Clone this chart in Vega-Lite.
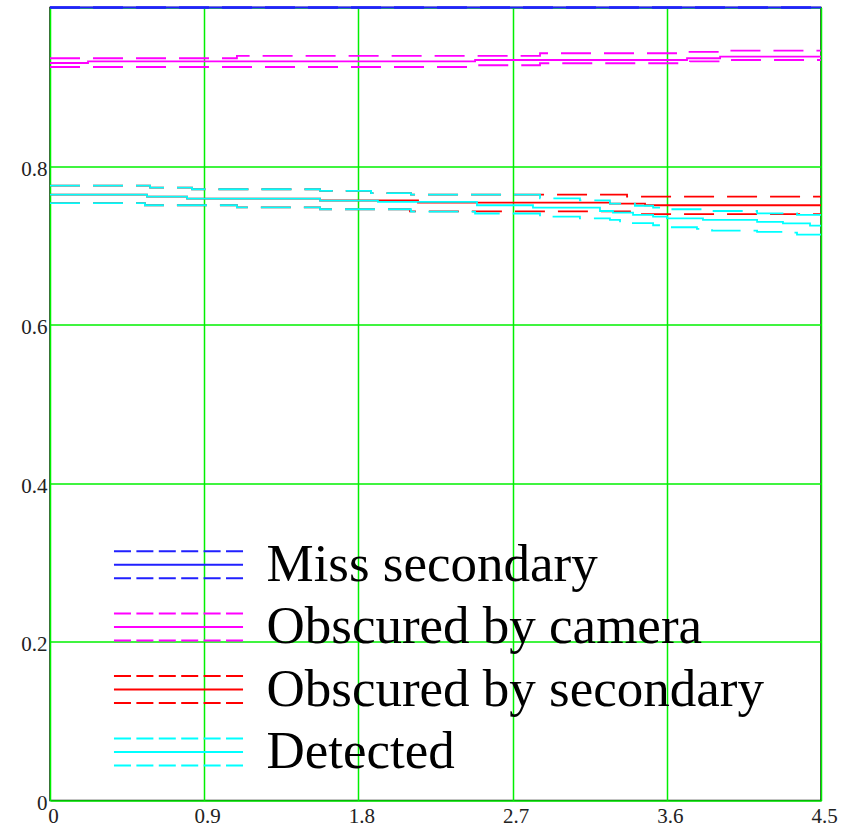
{
  "$schema": "https://vega.github.io/schema/vega-lite/v6.json",
  "width": 771,
  "height": 793,
  "autosize": {"type": "none"},
  "padding": {"left": 50, "top": 7.5, "right": 32, "bottom": 29},
  "background": "white",
  "config": {
    "view": {"stroke": "#111111", "strokeWidth": 1.5},
    "axis": {
      "labelFont": "Liberation Serif",
      "labelFontSize": 21,
      "labelColor": "#222222",
      "ticks": false,
      "domain": false,
      "grid": true,
      "gridColor": "#00f000",
      "gridWidth": 1.5,
      "gridOpacity": 1,
      "title": null
    },
    "legend": {
      "orient": "none",
      "legendX": 38,
      "legendY": 530.7,
      "padding": 0,
      "labelFont": "Liberation Serif",
      "labelFontSize": 53,
      "labelColor": "#000000",
      "labelLimit": 800,
      "symbolSize": 729,
      "symbolStrokeWidth": 2,
      "symbolOffset": 64,
      "labelOffset": 61.5,
      "rowPadding": 8.4,
      "title": null
    }
  },
  "data": {
    "values": [
      {"s": "Miss secondary", "l": "upper", "x": 0, "v": 1},
      {"s": "Miss secondary", "l": "upper", "x": 4.5, "v": 1},
      {"s": "Miss secondary", "l": "lower", "x": 0, "v": 1},
      {"s": "Miss secondary", "l": "lower", "x": 4.5, "v": 1},
      {"s": "Miss secondary", "l": "est", "x": 0, "v": 1},
      {"s": "Miss secondary", "l": "est", "x": 4.5, "v": 1},

      {"s": "Obscured by camera", "l": "upper", "x": 0, "v": 0.936},
      {"s": "Obscured by camera", "l": "upper", "x": 1.091, "v": 0.939},
      {"s": "Obscured by camera", "l": "upper", "x": 2.86, "v": 0.9423},
      {"s": "Obscured by camera", "l": "upper", "x": 3.718, "v": 0.944},
      {"s": "Obscured by camera", "l": "upper", "x": 3.94, "v": 0.9455},
      {"s": "Obscured by camera", "l": "upper", "x": 4.5, "v": 0.9455},
      {"s": "Obscured by camera", "l": "lower", "x": 0, "v": 0.925},
      {"s": "Obscured by camera", "l": "lower", "x": 2.481, "v": 0.9272},
      {"s": "Obscured by camera", "l": "lower", "x": 2.86, "v": 0.9297},
      {"s": "Obscured by camera", "l": "lower", "x": 3.735, "v": 0.932},
      {"s": "Obscured by camera", "l": "lower", "x": 3.911, "v": 0.9338},
      {"s": "Obscured by camera", "l": "lower", "x": 4.5, "v": 0.9338},
      {"s": "Obscured by camera", "l": "est", "x": 0, "v": 0.93},
      {"s": "Obscured by camera", "l": "est", "x": 0.222, "v": 0.932},
      {"s": "Obscured by camera", "l": "est", "x": 2.481, "v": 0.9338},
      {"s": "Obscured by camera", "l": "est", "x": 3.718, "v": 0.936},
      {"s": "Obscured by camera", "l": "est", "x": 3.911, "v": 0.938},
      {"s": "Obscured by camera", "l": "est", "x": 4.5, "v": 0.938},

      {"s": "Obscured by secondary", "l": "upper", "x": 0, "v": 0.7753},
      {"s": "Obscured by secondary", "l": "upper", "x": 0.584, "v": 0.7728},
      {"s": "Obscured by secondary", "l": "upper", "x": 0.829, "v": 0.7708},
      {"s": "Obscured by secondary", "l": "upper", "x": 1.576, "v": 0.7687},
      {"s": "Obscured by secondary", "l": "upper", "x": 1.874, "v": 0.7658},
      {"s": "Obscured by secondary", "l": "upper", "x": 2.107, "v": 0.764},
      {"s": "Obscured by secondary", "l": "upper", "x": 3.368, "v": 0.7615},
      {"s": "Obscured by secondary", "l": "upper", "x": 4.5, "v": 0.7615},
      {"s": "Obscured by secondary", "l": "lower", "x": 0, "v": 0.7532},
      {"s": "Obscured by secondary", "l": "lower", "x": 0.554, "v": 0.7506},
      {"s": "Obscured by secondary", "l": "lower", "x": 1.091, "v": 0.748},
      {"s": "Obscured by secondary", "l": "lower", "x": 1.576, "v": 0.7456},
      {"s": "Obscured by secondary", "l": "lower", "x": 2.101, "v": 0.743},
      {"s": "Obscured by secondary", "l": "lower", "x": 3.385, "v": 0.7394},
      {"s": "Obscured by secondary", "l": "lower", "x": 4.5, "v": 0.7394},
      {"s": "Obscured by secondary", "l": "est", "x": 0, "v": 0.764},
      {"s": "Obscured by secondary", "l": "est", "x": 0.566, "v": 0.7615},
      {"s": "Obscured by secondary", "l": "est", "x": 0.8, "v": 0.759},
      {"s": "Obscured by secondary", "l": "est", "x": 1.576, "v": 0.7566},
      {"s": "Obscured by secondary", "l": "est", "x": 2.148, "v": 0.754},
      {"s": "Obscured by secondary", "l": "est", "x": 3.268, "v": 0.7527},
      {"s": "Obscured by secondary", "l": "est", "x": 3.473, "v": 0.7506},
      {"s": "Obscured by secondary", "l": "est", "x": 4.5, "v": 0.7506},

      {"s": "Detected", "l": "upper", "x": 0, "v": 0.7753},
      {"s": "Detected", "l": "upper", "x": 0.584, "v": 0.7728},
      {"s": "Detected", "l": "upper", "x": 0.829, "v": 0.7708},
      {"s": "Detected", "l": "upper", "x": 1.576, "v": 0.7687},
      {"s": "Detected", "l": "upper", "x": 1.874, "v": 0.7658},
      {"s": "Detected", "l": "upper", "x": 2.107, "v": 0.764},
      {"s": "Detected", "l": "upper", "x": 2.86, "v": 0.7594},
      {"s": "Detected", "l": "upper", "x": 3.093, "v": 0.7568},
      {"s": "Detected", "l": "upper", "x": 3.268, "v": 0.7527},
      {"s": "Detected", "l": "upper", "x": 3.414, "v": 0.75},
      {"s": "Detected", "l": "upper", "x": 3.52, "v": 0.7476},
      {"s": "Detected", "l": "upper", "x": 3.607, "v": 0.7456},
      {"s": "Detected", "l": "upper", "x": 3.835, "v": 0.7434},
      {"s": "Detected", "l": "upper", "x": 4.127, "v": 0.7405},
      {"s": "Detected", "l": "upper", "x": 4.36, "v": 0.7384},
      {"s": "Detected", "l": "upper", "x": 4.5, "v": 0.7384},
      {"s": "Detected", "l": "lower", "x": 0, "v": 0.7532},
      {"s": "Detected", "l": "lower", "x": 0.554, "v": 0.7506},
      {"s": "Detected", "l": "lower", "x": 1.091, "v": 0.748},
      {"s": "Detected", "l": "lower", "x": 1.576, "v": 0.7456},
      {"s": "Detected", "l": "lower", "x": 2.107, "v": 0.7425},
      {"s": "Detected", "l": "lower", "x": 2.481, "v": 0.7402},
      {"s": "Detected", "l": "lower", "x": 2.86, "v": 0.7363},
      {"s": "Detected", "l": "lower", "x": 3.093, "v": 0.7342},
      {"s": "Detected", "l": "lower", "x": 3.268, "v": 0.7321},
      {"s": "Detected", "l": "lower", "x": 3.327, "v": 0.728},
      {"s": "Detected", "l": "lower", "x": 3.52, "v": 0.7254},
      {"s": "Detected", "l": "lower", "x": 3.607, "v": 0.7229},
      {"s": "Detected", "l": "lower", "x": 3.776, "v": 0.7208},
      {"s": "Detected", "l": "lower", "x": 3.864, "v": 0.7186},
      {"s": "Detected", "l": "lower", "x": 4.127, "v": 0.717},
      {"s": "Detected", "l": "lower", "x": 4.278, "v": 0.716},
      {"s": "Detected", "l": "lower", "x": 4.36, "v": 0.7136},
      {"s": "Detected", "l": "lower", "x": 4.5, "v": 0.7136},
      {"s": "Detected", "l": "est", "x": 0, "v": 0.764},
      {"s": "Detected", "l": "est", "x": 0.566, "v": 0.7615},
      {"s": "Detected", "l": "est", "x": 0.8, "v": 0.759},
      {"s": "Detected", "l": "est", "x": 1.576, "v": 0.7564},
      {"s": "Detected", "l": "est", "x": 1.914, "v": 0.7548},
      {"s": "Detected", "l": "est", "x": 2.492, "v": 0.7506},
      {"s": "Detected", "l": "est", "x": 2.819, "v": 0.7476},
      {"s": "Detected", "l": "est", "x": 3.21, "v": 0.7434},
      {"s": "Detected", "l": "est", "x": 3.286, "v": 0.7413},
      {"s": "Detected", "l": "est", "x": 3.403, "v": 0.7384},
      {"s": "Detected", "l": "est", "x": 3.52, "v": 0.7363},
      {"s": "Detected", "l": "est", "x": 3.601, "v": 0.7342},
      {"s": "Detected", "l": "est", "x": 3.811, "v": 0.7321},
      {"s": "Detected", "l": "est", "x": 4.127, "v": 0.7296},
      {"s": "Detected", "l": "est", "x": 4.278, "v": 0.7279},
      {"s": "Detected", "l": "est", "x": 4.436, "v": 0.7249},
      {"s": "Detected", "l": "est", "x": 4.5, "v": 0.7249}
    ]
  },
  "mark": {"type": "line", "interpolate": "step-after", "strokeWidth": 1.8, "clip": false},
  "encoding": {
    "x": {
      "field": "x",
      "type": "quantitative",
      "scale": {"domain": [0, 4.5], "nice": false, "zero": false},
      "axis": {
        "values": [0, 0.9, 1.8, 2.7, 3.6, 4.5],
        "format": ".1~f",
        "labelPadding": 5,
        "labelOffset": 3,
        "labelAlign": "center"
      }
    },
    "y": {
      "field": "v",
      "type": "quantitative",
      "scale": {"domain": [0, 1], "nice": false},
      "axis": {
        "values": [0, 0.2, 0.4, 0.6, 0.8, 1],
        "labelExpr": "datum.value == 1 ? '' : format(datum.value, '.1~f')",
        "labelPadding": 3,
        "labelOffset": 3
      }
    },
    "color": {
      "field": "s",
      "type": "nominal",
      "sort": null,
      "scale": {
        "domain": ["Miss secondary", "Obscured by camera", "Obscured by secondary", "Detected"],
        "range": ["#2020ff", "#ff00ff", "#ff0000", "#00ffff"]
      },
      "legend": {
        "symbolType": "M-4.78,-1H-3.52M-3.12,-1H-1.86M-1.46,-1H-0.2M0.2,-1H1.46M1.86,-1H3.12M3.52,-1H4.78M-4.78,0H4.78M-4.78,1H-3.52M-3.12,1H-1.86M-1.46,1H-0.2M0.2,1H1.46M1.86,1H3.12M3.52,1H4.78"
      }
    },
    "strokeDash": {
      "field": "l",
      "type": "nominal",
      "scale": {"domain": ["est", "upper", "lower"], "range": [[1, 0], [30, 13], [30, 13]]},
      "legend": null
    },
    "detail": {"field": "l"}
  }
}
